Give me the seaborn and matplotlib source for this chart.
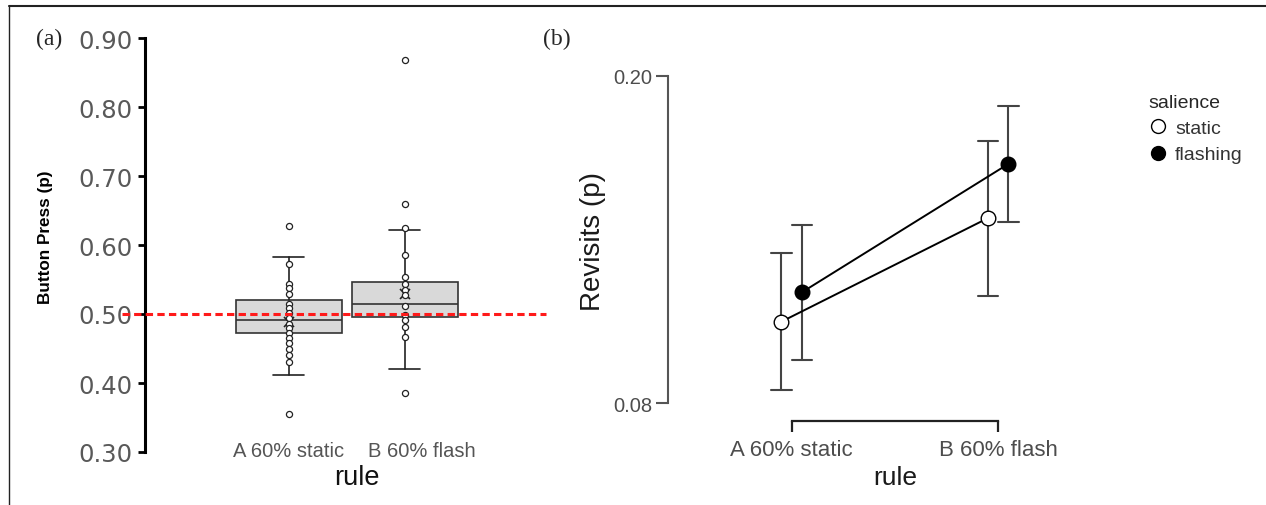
import matplotlib
matplotlib.use("Agg")
import numpy as np
import pandas as pd
import matplotlib.pyplot as plt
import seaborn as sns
from matplotlib.lines import Line2D
from matplotlib import font_manager
from matplotlib.transforms import ScaledTranslation

rules = ["A 60% static", "B 60% flash"]

# panel (a): button press proportion, one value per participant
press_a = [0.627, 0.573, 0.544, 0.538, 0.529, 0.514, 0.508, 0.502, 0.494, 0.486,
           0.479, 0.472, 0.465, 0.458, 0.450, 0.440, 0.431, 0.355]
press_b = [0.868, 0.660, 0.625, 0.586, 0.554, 0.544, 0.535, 0.528, 0.512, 0.498,
           0.491, 0.481, 0.466, 0.385]
box_q1 = [0.472, 0.496]
box_med = [0.491, 0.514]
box_q3 = [0.521, 0.546]
whisk_lo = [0.412, 0.421]
whisk_hi = [0.582, 0.622]
box_mean = [0.488, 0.529]
chance = 0.50

# panel (b): revisits, mean and half-width of error bar
salience = ["static", "flashing"]
rev_mean = {"static": [0.1099, 0.1478], "flashing": [0.1207, 0.1677]}
rev_err = {"static": [0.0250, 0.0284], "flashing": [0.0247, 0.0213]}


def have_font(name):
    try:
        font_manager.findfont(font_manager.FontProperties(family=name), fallback_to_default=False)
        return True
    except ValueError:
        return False


# condensed face for panel (a) text if there is one, else regular at a smaller size
if have_font("Liberation Sans Narrow"):
    narrow, tick_fs, rule_fs = "Liberation Sans Narrow", 17, 22
else:
    narrow, tick_fs, rule_fs = "Liberation Sans", 14.5, 19.5

sns.set_style("ticks")
plt.rcParams["font.family"] = ["Liberation Sans", "DejaVu Sans"]

W, H = 1266, 506
fig = plt.figure(figsize=(W / 100, H / 100), dpi=100)


def px_axes(l, t, r, b):
    return fig.add_axes([l / W, 1 - b / H, (r - l) / W, (b - t) / H])


ax1 = px_axes(145, 39, 546, 453)
ax2 = px_axes(668, 60, 1122, 422)

# ---------- panel (a) ----------
stats = [dict(q1=box_q1[i], med=box_med[i], q3=box_q3[i], whislo=whisk_lo[i],
              whishi=whisk_hi[i], mean=box_mean[i], label=rules[i]) for i in range(2)]
ax1.bxp(stats, positions=[0, 1], widths=0.915, capwidths=0.265, showfliers=False,
        showmeans=True, patch_artist=True, manage_ticks=False,
        boxprops=dict(facecolor="#d9d9d9", edgecolor="#333333", linewidth=1.2),
        medianprops=dict(color="#333333", linewidth=1.2),
        whiskerprops=dict(color="#222222", linewidth=1.2),
        capprops=dict(color="#222222", linewidth=1.2),
        meanprops=dict(marker="x", markeredgecolor="#222222", markersize=7, markeredgewidth=1.2))

df_a = pd.DataFrame({"rule": [rules[0]] * len(press_a) + [rules[1]] * len(press_b),
                     "press": press_a + press_b})
sns.stripplot(data=df_a, x="rule", y="press", order=rules, jitter=False, color="white",
              edgecolor="#222222", linewidth=0.9, size=4.4, ax=ax1, zorder=3)

ax1.plot([-0.057, 1.0], [chance, chance], transform=ax1.get_yaxis_transform(),
         color="#ff1a1a", lw=2.2, ls=(0, (2.4, 1.4)), clip_on=False, zorder=5)

ax1.set_xlim(-1.24, 2.22)
ax1.set_ylim(0.30, 0.90)
yt = np.round(np.arange(0.30, 0.91, 0.10), 2)
ax1.set_yticks(yt, labels=[f"{v:.2f}" for v in yt], fontfamily="DejaVu Sans",
               fontsize=17.5, color="#595959")
ax1.tick_params(axis="y", direction="out", length=5, width=2, color="black", pad=4)
ax1.set_xticks([0, 1], labels=rules, fontfamily=narrow, fontsize=tick_fs, color="#555555")
ax1.tick_params(axis="x", length=0, pad=-8)
lab_b = ax1.get_xticklabels()[1]
lab_b.set_transform(lab_b.get_transform() + ScaledTranslation(0.17, 0, fig.dpi_scale_trans))
for s in ["top", "right", "bottom"]:
    ax1.spines[s].set_visible(False)
ax1.spines["left"].set_linewidth(2.2)
ax1.spines["left"].set_color("black")
ax1.set_xlabel("rule", fontfamily=narrow, fontsize=rule_fs, color="#111111")
ax1.xaxis.set_label_coords(0.529, -0.06)
ax1.xaxis.label.set_va("center")
ax1.set_ylabel("Button Press (p)", fontweight="bold", fontsize=12.3, color="black")
ax1.yaxis.set_label_coords(-0.247, 0.52)
ax1.yaxis.label.set_va("center")

# ---------- panel (b) ----------
rows = []
for s in salience:
    for i, r in enumerate(rules):
        for sign in (-1, 1):
            rows.append({"rule": r, "salience": s,
                         "revisits": rev_mean[s][i] + sign * rev_err[s][i]})
df_b = pd.DataFrame(rows)
sns.pointplot(data=df_b, x="rule", y="revisits", hue="salience", order=rules,
              hue_order=salience, palette=["black", "black"], estimator="mean",
              errorbar=("pi", 100), dodge=0.1, capsize=0.1, markers="o",
              markersize=10.5, linewidth=1.4,
              err_kws={"color": "#444444", "linewidth": 1.5}, legend=False, ax=ax2)
pts = [ln for ln in ax2.lines if ln.get_marker() == "o"]
pts[0].set_markerfacecolor("white")
for ln in pts:
    ln.set_markeredgecolor("black")
    ln.set_markeredgewidth(1.0)
    ln.set_zorder(5)

ax2.set_xlim(-0.6, 1.6)
ax2.set_ylim(0.0735, 0.2061)
ax2.set_yticks([0.08, 0.20], labels=["0.08", "0.20"], fontsize=14.5, color="#4d4d4d")
ax2.tick_params(axis="y", direction="out", length=9, width=1.5, color="#555555", pad=2)
ax2.set_xticks([0, 1], labels=rules, fontsize=16, color="#4d4d4d")
ax2.tick_params(axis="x", direction="out", length=8, width=1.6, color="#222222", pad=5)
for s in ["top", "right"]:
    ax2.spines[s].set_visible(False)
ax2.spines["left"].set_bounds(0.08, 0.20)
ax2.spines["left"].set_color("#555555")
ax2.spines["left"].set_linewidth(1.5)
ax2.spines["bottom"].set_bounds(0, 1)
ax2.spines["bottom"].set_color("#222222")
ax2.spines["bottom"].set_linewidth(1.6)
ax2.set_xlabel("rule", fontsize=19, color="#1a1a1a")
ax2.xaxis.set_label_coords(0.5, -0.155)
ax2.xaxis.label.set_va("center")
ax2.set_ylabel("Revisits (p)", fontsize=20, color="#1a1a1a")
ax2.yaxis.set_label_coords(-0.165, 0.498)
ax2.yaxis.label.set_va("center")

handles = [Line2D([], [], marker="o", ls="none", mfc=c, mec="black", ms=10, mew=1.0)
           for c in ("white", "black")]
fig.legend(handles, salience, title="salience", loc="upper left",
           bbox_to_anchor=(1148 / W, 1 - 95 / H), frameon=False, fontsize=14,
           title_fontsize=14, handlelength=1.0, handletextpad=0.4, labelspacing=0.44,
           borderpad=0, borderaxespad=0, alignment="left", labelcolor="#333333")

# panel letters and figure frame
fig.text(49 / W, 1 - 39 / H, "(a)", family="Liberation Serif", fontsize=17, ha="center", va="center")
fig.text(557 / W, 1 - 39 / H, "(b)", family="Liberation Serif", fontsize=17, ha="center", va="center")
fig.add_artist(Line2D([9 / W, 1], [1 - 7 / H, 1 - 7 / H], color="#222222", lw=1.5))
fig.add_artist(Line2D([9 / W, 9 / W], [0, 1 - 7 / H], color="#222222", lw=1.0))

fig.savefig("out.png", dpi=100)
